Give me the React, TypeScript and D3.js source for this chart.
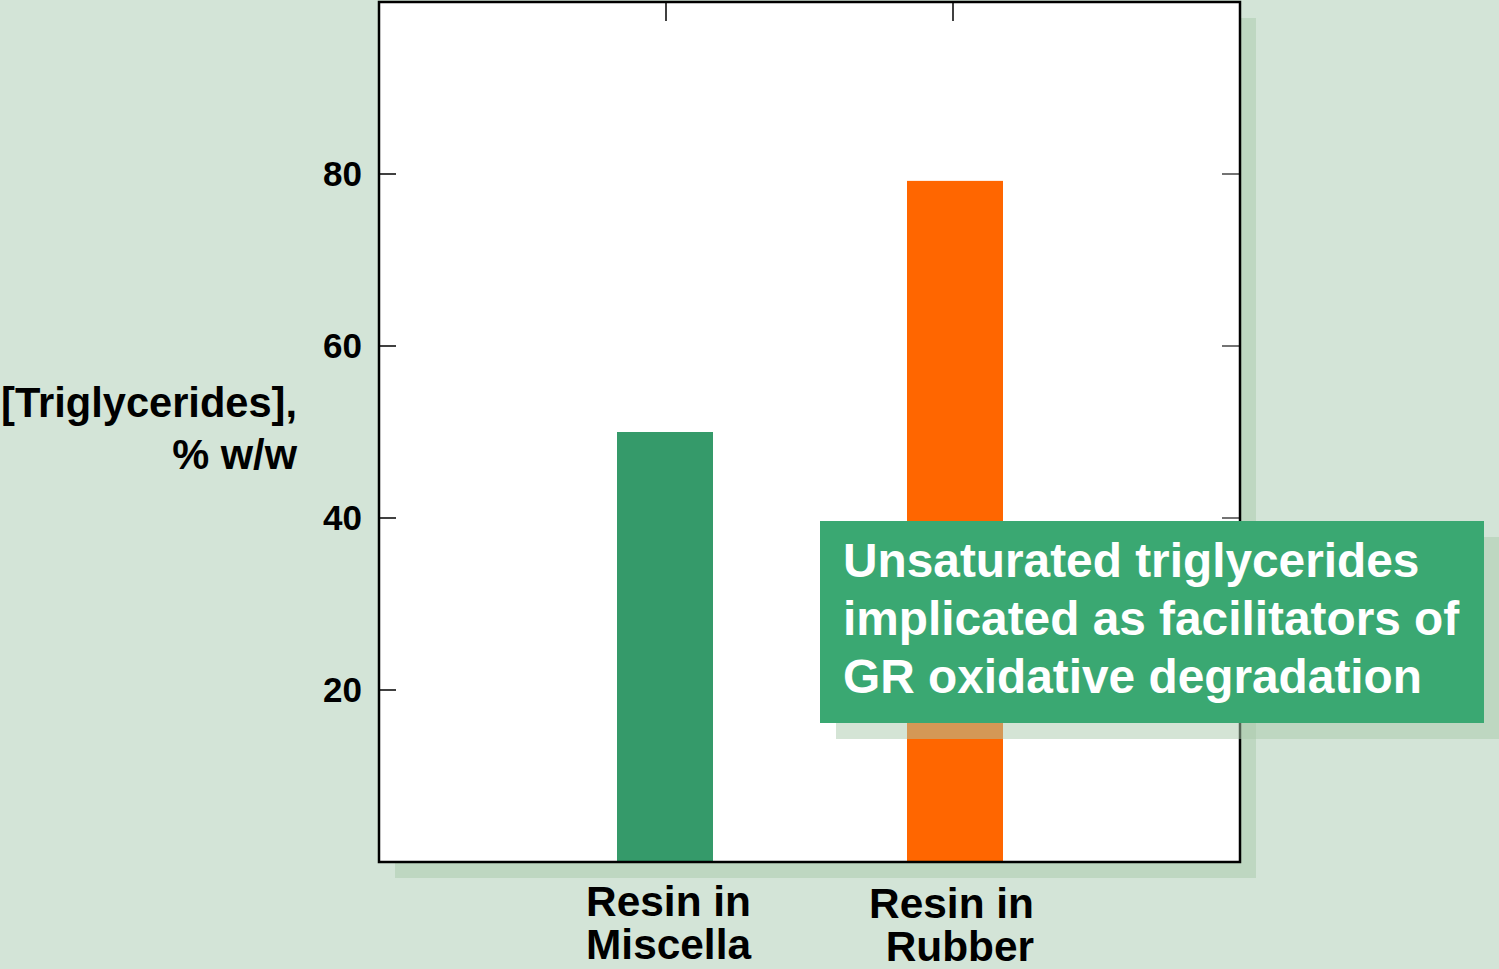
import React from "react";
import * as d3 from "d3";

const categories = ["Resin in Miscella", "Resin in Rubber"];
const categoryLines = [["Resin in", "Miscella"], ["Resin in", "Rubber"]];
const values = [50, 79.2];
const barColors = ["#359a6a", "#ff6600"];
const yTicks = [20, 40, 60, 80];
const yTitleLines = ["[Triglycerides],", "% w/w"];
const calloutLines = [
  "Unsaturated triglycerides",
  "implicated as facilitators of",
  "GR oxidative degradation",
];

const W = 1499;
const H = 969;
const FONT = "'Liberation Sans', Arial, Helvetica, sans-serif";

export default function App() {
  const left = 379, right = 1240, top = 2, bottom = 862;
  const x = d3.scalePoint<string>().domain(categories).range([left, right]).padding(1);
  const y = d3.scaleLinear().domain([0, 100]).range([bottom, top]);
  const barW = 96;
  const shadowFill = "rgb(170,202,172)";
  const off = 16;
  const cb = { x: 820, y: 521, w: 664, h: 202 };

  return (
    <svg
      width={W}
      height={H}
      style={{ position: "absolute", left: 0, top: 0, display: "block" }}
      fontFamily={FONT}
    >
      <rect x={0} y={0} width={W} height={H} fill="#d3e4d7" />
      {/* plot shadow */}
      <rect x={left + off} y={top + off} width={right - left} height={bottom - top} fill={shadowFill} opacity={0.5} />
      {/* plot area */}
      <rect x={left} y={top} width={right - left} height={bottom - top} fill="#ffffff" />
      {/* bars */}
      {categories.map((c, i) => (
        <rect
          key={c}
          x={(x(c) as number) - barW / 2 + (i === 1 ? 2 : -1)}
          y={y(values[i])}
          width={barW}
          height={bottom - y(values[i])}
          fill={barColors[i]}
        />
      ))}
      {/* ticks */}
      {yTicks.map((t) => (
        <g key={t}>
          <line x1={left} x2={left + 17} y1={y(t)} y2={y(t)} stroke="#000" strokeWidth={1.5} />
          <line x1={right - 18} x2={right} y1={y(t)} y2={y(t)} stroke="#444" strokeWidth={1.5} />
          <text x={362} y={y(t) + 12} textAnchor="end" fontSize={35} fontWeight="bold" fill="#000">
            {t}
          </text>
        </g>
      ))}
      {categories.map((c) => (
        <line key={c} x1={x(c)} x2={x(c)} y1={top} y2={top + 19} stroke="#000" strokeWidth={1.5} />
      ))}
      {/* frame */}
      <rect x={left} y={top} width={right - left} height={bottom - top} fill="none" stroke="#000" strokeWidth={2.5} />
      {/* y title */}
      {yTitleLines.map((l, i) => (
        <text key={l} x={297} y={417 + i * 52} textAnchor="end" fontSize={41.6} fontWeight="bold" fill="#000">
          {l}
        </text>
      ))}
      {/* category labels */}
      {categories.map((c, i) =>
        categoryLines[i].map((l, j) => (
          <text
            key={c + j}
            x={(x(c) as number) + (i === 0 ? 85 : 81)}
            y={916 + (i === 1 ? 2 : 0) + j * 43}
            textAnchor="end"
            fontSize={42.4}
            fontWeight="bold"
            fill="#000"
          >
            {l}
          </text>
        ))
      )}
      {/* callout */}
      <rect x={cb.x + off} y={cb.y + off} width={cb.w} height={cb.h} fill={shadowFill} opacity={0.5} />
      <rect x={cb.x} y={cb.y} width={cb.w} height={cb.h} fill="#3aa872" />
      {calloutLines.map((l, i) => (
        <text key={l} x={843} y={577 + i * 58} fontSize={47.8} fontWeight="bold" fill="#ffffff">
          {l}
        </text>
      ))}
    </svg>
  );
}
